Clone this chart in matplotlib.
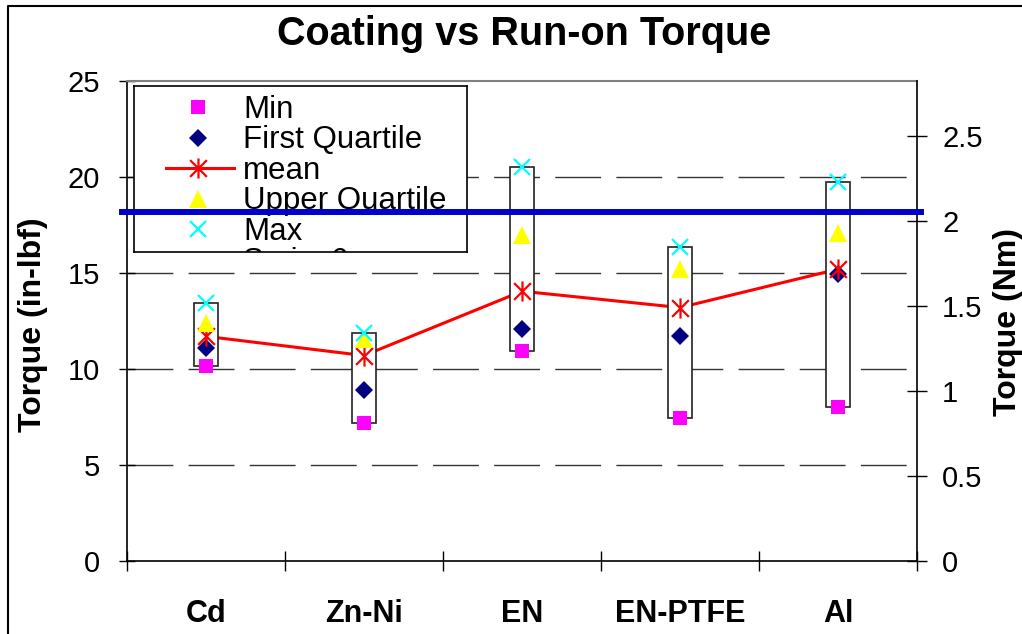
import numpy as np
import matplotlib
matplotlib.use("Agg")
import matplotlib.pyplot as plt
from matplotlib.path import Path
from matplotlib.patches import Rectangle
from matplotlib.lines import Line2D

plt.rcParams['font.family'] = ['Liberation Sans', 'DejaVu Sans']

# torque per coating, in-lbf
coatings = ["Cd", "Zn-Ni", "EN", "EN-PTFE", "Al"]
t_min = [10.15, 7.2, 10.95, 7.45, 8.0]
t_q1 = [11.1, 8.9, 12.1, 11.7, 14.95]
t_mean = [11.7, 10.7, 14.05, 13.2, 15.2]
t_q3 = [12.4, 11.55, 17.0, 15.2, 17.1]
t_max = [13.45, 11.9, 20.5, 16.35, 19.75]
spec_limit = 18.2
legend_labels = ["Min", "First Quartile", "mean", "Upper Quartile", "Max", "Series6"]

INLBF_PER_NM = 8.8507

# asterisk marker: an X with a vertical stroke
star = Path([(-1, -1), (1, 1), (-1, 1), (1, -1), (0, -1.2), (0, 1.2)],
            [Path.MOVETO, Path.LINETO] * 3)

styles = [
    dict(marker='s', ms=10, mfc='#FF00FF', mec='#FF00FF', mew=0),
    dict(marker='D', ms=9, mfc='#000080', mec='#000080', mew=0),
    dict(marker=star, ms=14.5, mfc='none', mec='#FF0000', mew=1.6),
    dict(marker='^', ms=12.5, mfc='#FFFF00', mec='#FFFF00', mew=0),
    dict(marker='x', ms=12, mfc='none', mec='#00FFFF', mew=1.6),
]
series = [t_min, t_q1, t_mean, t_q3, t_max]

W, H = 1022, 634
fig = plt.figure(figsize=(W / 100, H / 100), dpi=100)
ax = fig.add_axes([127 / W, 1 - 561 / H, 790 / W, 480 / H])
x = np.arange(len(coatings))

ax.set_xlim(-0.5, len(coatings) - 0.5)
ax.set_ylim(0, 25)
ax.set_yticks(np.arange(0, 26, 5))
ax.grid(axis='y', color='#333333', lw=1.0, linestyle=(0, (33, 11)))
# no dashed line on top of the bottom axis or the top border
grid = ax.yaxis.get_gridlines()
grid[0].set_visible(False)
grid[-1].set_visible(False)

# mean trend line sits under the range boxes
ax.plot(x, t_mean, color='#FF0000', lw=2.2, zorder=2)

half = 0.073
for xi, lo, hi in zip(x, t_min, t_max):
    ax.add_patch(Rectangle((xi - half, lo), 2 * half, hi - lo, facecolor='white',
                           edgecolor='#222222', lw=1.2, zorder=3))

for vals, st in zip(series, styles):
    ax.plot(x, vals, linestyle='none', zorder=4, **st)

# axes styling
ax.set_xticks(x)
ax.set_xticklabels(coatings, fontsize=22, fontweight='bold')
ax.set_xticks(np.arange(-0.5, len(coatings)), minor=True)
ax.tick_params(axis='x', which='major', length=0, pad=27)
ax.tick_params(axis='x', which='minor', direction='inout', length=15, width=1, color='black')
ax.tick_params(axis='y', direction='inout', length=11, width=1, labelsize=21, pad=14)
for s in ['left', 'bottom']:
    ax.spines[s].set_color('black')
    ax.spines[s].set_linewidth(1.2)
ax.spines['top'].set_color('#808080')
ax.spines['top'].set_linewidth(1.5)
ax.spines['right'].set_visible(False)

ax2 = ax.twinx()
ax2.set_ylim(0, 25 / INLBF_PER_NM)
ax2.set_yticks(np.arange(0, 2.6, 0.5))
ax2.set_yticklabels(['0', '0.5', '1', '1.5', '2', '2.5'])
ax2.tick_params(axis='y', direction='inout', length=14, width=1, labelsize=21, pad=11)
for s in ['left', 'bottom', 'top']:
    ax2.spines[s].set_visible(False)
ax2.spines['right'].set_color('black')
ax2.spines['right'].set_linewidth(1.2)

fig.text(524 / W, 1 - 45 / H, "Coating vs Run-on Torque", fontsize=28.5,
         fontweight='bold', ha='center', va='baseline')
fig.text(33 / W, 1 - 325 / H, "Torque (in-lbf)", fontsize=23, fontweight='bold',
         rotation=90, ha='center', va='center')
fig.text(1008 / W, 1 - 322 / H, "Torque (Nm)", fontsize=23, fontweight='bold',
         rotation=90, ha='center', va='center')

# legend box, laid out in pixels so the last row can be cut off by the frame
lg = fig.add_axes([134 / W, 1 - 252 / H, 333 / W, 166 / H])
lg.set_xlim(0, 333)
lg.set_ylim(166, 0)
lg.set_xticks([])
lg.set_yticks([])
for s in lg.spines.values():
    s.set_color('black')
    s.set_linewidth(1.2)
row_y = 21 + 30.5 * np.arange(len(legend_labels))
for i, label in enumerate(legend_labels):
    if i < len(styles):
        if i == 2:
            lg.plot([32, 100], [row_y[i], row_y[i]], color='#FF0000', lw=2.2)
        lg.plot([64], [row_y[i]], linestyle='none', **styles[i])
    lg.text(109, row_y[i] + 3, label, fontsize=22.5, va='center', ha='left', clip_on=True)

# limit line across the whole plot, drawn over the legend
fig.add_artist(Line2D([-0.006, 1.005], [spec_limit, spec_limit],
                      transform=ax.get_yaxis_transform(), color='#0000CC', lw=4.3, zorder=5))

# outer chart frame
fig.add_artist(Line2D([8 / W, 8 / W, 1.0], [0.0, 1 - 6 / H, 1 - 6 / H],
                      transform=fig.transFigure, color='black', lw=1.5))

fig.savefig("out.png", dpi=100)
